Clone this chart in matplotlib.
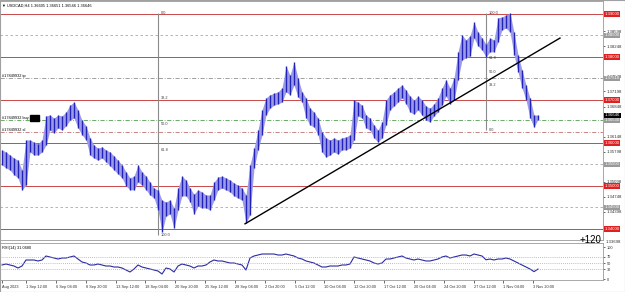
import numpy as np
import matplotlib.pyplot as plt
from matplotlib.patches import Rectangle
from matplotlib.transforms import blended_transform_factory

plt.rcParams['font.family'] = ['Liberation Sans', 'DejaVu Sans']

#==============================================================================#
# Data (USDCAD H4, one bar every second H4 bar)
#==============================================================================#
highs = [1.3584, 1.3579, 1.3572, 1.3565, 1.3560, 1.3537, 1.3607, 1.3607, 1.3602, 1.3598,
         1.3607, 1.3663, 1.3665, 1.3658, 1.3665, 1.3663, 1.3672, 1.3688, 1.3695, 1.3677,
         1.3653, 1.3640, 1.3612, 1.3595, 1.3588, 1.3591, 1.3584, 1.3579, 1.3570, 1.3560,
         1.3549, 1.3533, 1.3519, 1.3523, 1.3549, 1.3533, 1.3523, 1.3509, 1.3495, 1.3491,
         1.3467, 1.3463, 1.3467, 1.3449, 1.3495, 1.3523, 1.3514, 1.3495, 1.3481, 1.3491,
         1.3486, 1.3479, 1.3479, 1.3509, 1.3521, 1.3523, 1.3519, 1.3514, 1.3507, 1.3502,
         1.3495, 1.3479, 1.3549, 1.3588, 1.3630, 1.3677, 1.3705, 1.3712, 1.3716, 1.3719,
         1.3728, 1.3779, 1.3758, 1.3788, 1.3751, 1.3719, 1.3705, 1.3681, 1.3672, 1.3658,
         1.3626, 1.3612, 1.3607, 1.3612, 1.3607, 1.3612, 1.3614, 1.3619, 1.3700, 1.3695,
         1.3688, 1.3665, 1.3658, 1.3642, 1.3630, 1.3649, 1.3700, 1.3712, 1.3719, 1.3728,
         1.3735, 1.3723, 1.3709, 1.3700, 1.3709, 1.3700, 1.3686, 1.3681, 1.3691, 1.3705,
         1.3728, 1.3747, 1.3728, 1.3751, 1.3812, 1.3851, 1.3840, 1.3849, 1.3881, 1.3858,
         1.3844, 1.3830, 1.3844, 1.3840, 1.3891, 1.3893, 1.3898, 1.3902, 1.3858, 1.3805,
         1.3770, 1.3735, 1.3705, 1.3665, 1.36651]
lows = [1.3549, 1.3542, 1.3537, 1.3526, 1.3519, 1.3491, 1.3502, 1.3579, 1.3572, 1.3572,
        1.3579, 1.3595, 1.3630, 1.3623, 1.3635, 1.3630, 1.3640, 1.3653, 1.3658, 1.3635,
        1.3619, 1.3607, 1.3572, 1.3565, 1.3560, 1.3565, 1.3556, 1.3547, 1.3537, 1.3528,
        1.3519, 1.3500, 1.3491, 1.3491, 1.3509, 1.3502, 1.3491, 1.3479, 1.3472, 1.3444,
        1.3393, 1.3430, 1.3435, 1.3402, 1.3444, 1.3477, 1.3477, 1.3463, 1.3435, 1.3453,
        1.3449, 1.3449, 1.3444, 1.3467, 1.3491, 1.3495, 1.3491, 1.3486, 1.3477, 1.3472,
        1.3467, 1.3414, 1.3433, 1.3542, 1.3584, 1.3619, 1.3665, 1.3681, 1.3688, 1.3691,
        1.3695, 1.3719, 1.3712, 1.3735, 1.3707, 1.3695, 1.3658, 1.3642, 1.3637, 1.3619,
        1.3579, 1.3567, 1.3572, 1.3579, 1.3574, 1.3584, 1.3584, 1.3588, 1.3607, 1.3663,
        1.3658, 1.3635, 1.3630, 1.3612, 1.3602, 1.3612, 1.3642, 1.3677, 1.3686, 1.3695,
        1.3705, 1.3691, 1.3672, 1.3667, 1.3677, 1.3665, 1.3653, 1.3649, 1.3663, 1.3672,
        1.3688, 1.3709, 1.3691, 1.3700, 1.3747, 1.3793, 1.3798, 1.3802, 1.3844, 1.3826,
        1.3816, 1.3800, 1.3812, 1.3812, 1.3835, 1.3863, 1.3867, 1.3858, 1.3805, 1.3765,
        1.3728, 1.3700, 1.3658, 1.3637, 1.36546]
rsi = [43.8, 46.9, 43.8, 40.6, 34.4, 40.6, 59.4, 59.4, 59.4, 56.3,
       59.4, 71.9, 68.8, 65.6, 62.5, 65.6, 65.6, 68.8, 71.9, 62.5,
       53.1, 50.0, 43.8, 43.8, 46.9, 43.8, 40.6, 40.6, 37.5, 37.5,
       34.4, 28.1, 21.9, 31.3, 43.8, 37.5, 34.4, 31.3, 28.1, 25.0,
       15.6, 34.4, 31.3, 21.9, 40.6, 46.9, 43.8, 40.6, 34.4, 40.6,
       40.6, 43.8, 53.1, 59.4, 56.3, 56.3, 53.1, 50.0, 50.0, 46.9,
       43.8, 28.1, 65.6, 71.9, 75.0, 78.1, 78.1, 78.1, 78.1, 75.0,
       75.0, 78.1, 75.0, 71.9, 65.6, 62.5, 56.3, 53.1, 50.0, 43.8,
       37.5, 37.5, 40.6, 40.6, 40.6, 43.8, 43.8, 46.9, 68.8, 65.6,
       62.5, 59.4, 56.3, 50.0, 46.9, 50.0, 62.5, 62.5, 65.6, 68.8,
       71.9, 65.6, 62.5, 59.4, 62.5, 59.4, 56.3, 56.3, 59.4, 62.5,
       68.8, 71.9, 65.6, 68.8, 71.9, 75.0, 75.0, 71.9, 78.1, 75.0,
       71.9, 60.0, 62.5, 59.4, 62.5, 62.5, 65.6, 62.5, 56.3, 50.0,
       43.8, 37.5, 31.3, 23.0, 31.1]

time_labels = ['Aug 2023', '1 Sep 12:00', '6 Sep 04:00', '8 Sep 20:00', '13 Sep 12:00',
               '18 Sep 04:00', '20 Sep 20:00', '25 Sep 12:00', '28 Sep 04:00',
               '2 Oct 20:00', '5 Oct 12:00', '10 Oct 04:00', '12 Oct 20:00',
               '17 Oct 12:00', '20 Oct 04:00', '24 Oct 20:00', '27 Oct 12:00',
               '1 Nov 04:00', '3 Nov 20:00']
price_ticks = [1.38598, 1.38248, 1.37548, 1.37198, 1.36848, 1.36148, 1.35798,
               1.35098, 1.34748, 1.34398, 1.33698]
red_levels = [1.39, 1.38, 1.37, 1.36, 1.35, 1.34]
grey_levels = [1.385, 1.355, 1.345]
tp_level = 1.3751
buy_level = 1.3653
sl_level = 1.3626
last_price = 1.36646
order_id = '#17849932'
fib_levels = [0.0, 38.2, 50.0, 61.8, 100.0]
fibs = [(39.0, 1.3902, 1.3386),     # bar, 0 level price, 100 level price
        (121.0, 1.3630, 1.3902)]
trend = ([60.75, 139.5], [1.3412, 1.3844])
title = '\u25bc USDCAD,H4 1.36605 1.36651 1.36546 1.36646'
rsi_title = 'RSI(14) 31.0680'

#==============================================================================#
# Layout
#==============================================================================#
W, H = 625, 292
fig = plt.figure(figsize=(W / 100, H / 100), dpi=100)
ax = fig.add_axes([0.0, 1 - 240 / H, 603 / W, 239 / H])
axr = fig.add_axes([0.0, 1 - 280 / H, 603 / W, 37 / H])
fs = 2.8
grid_c = '#a8a8a8'

x = np.arange(len(highs))

#Price bars (light band between bars + the bars themselves)
ax.fill_between(x, lows, highs, color='#9c9ce6', lw=0, zorder=3)
ax.vlines(x, lows, highs, color='#2222b8', lw=1.0, zorder=4)
ax.set_xlim(-0.5, 150.25)
ax.set_ylim(1.33744, 1.39302)
ax.set_xticks([])

for lv in red_levels:
    ax.axhline(lv, color='#c84848', lw=0.7, zorder=1)
for lv in grey_levels:
    ax.axhline(lv, color=grid_c, lw=0.6, ls=(0, (3, 3)), zorder=1)
ax.axhline(tp_level, color='#909090', lw=0.6, ls=(0, (5, 2, 1, 2)), zorder=1)
ax.axhline(buy_level, color='#50a050', lw=0.6, ls=(0, (5, 2, 1, 2)), zorder=1)
ax.axhline(sl_level, color='#c07070', lw=0.6, ls=(0, (5, 2, 1, 2)), zorder=1)

tl = blended_transform_factory(ax.transAxes, ax.transData)
ax.text(0.003, tp_level, order_id + ' tp', fontsize=fs, va='bottom', transform=tl)
ax.text(0.003, buy_level, order_id + ' buy', fontsize=fs, va='bottom', transform=tl)
ax.text(0.003, sl_level, order_id + ' sl', fontsize=fs, va='bottom', transform=tl)
ax.add_patch(Rectangle((30 / 603, 119 / 239), 9 / 603, 6 / 239,
                       transform=ax.transAxes, color='black', zorder=5))

#Fibonacci
for bar, p0, p100 in fibs:
    ax.vlines(bar, min(p0, p100), max(p0, p100), color='#8a8a8a', lw=0.8, zorder=2)
    for lv in fib_levels:
        p = p0 + (p100 - p0) * lv / 100
        ax.text(bar + 0.6, p, '%.1f' % lv, fontsize=fs, va='center', color='#404040', zorder=6)

#Trend line
ax.plot(trend[0], trend[1], color='black', lw=1.0, zorder=5)

ax.text(0.004, 0.983, title, fontsize=fs, transform=ax.transAxes, va='center')

#Price scale
ax.yaxis.tick_right()
ax.set_yticks(price_ticks[:-1])
ax.set_yticklabels(['%.5f' % p for p in price_ticks[:-1]])
ax.tick_params(axis='y', labelsize=3.1, length=1.5, pad=1, width=0.5, colors='#303030')
box = dict(boxstyle='square,pad=0.12', ec='none')
for lv in red_levels:
    ax.text(1.003, lv, '%.5f' % lv, transform=tl, fontsize=3.1, color='white', va='center',
            bbox=dict(box, fc='#e02020'), clip_on=False, zorder=10)
for lv in grey_levels + [tp_level, buy_level]:
    ax.text(1.003, lv, '%.5f' % lv, transform=tl, fontsize=3.1, color='white', va='center',
            bbox=dict(box, fc='#9a9a9a'), clip_on=False, zorder=10)
ax.text(1.003, last_price, '%.5f' % last_price, transform=tl, fontsize=3.1, color='white',
        va='center', bbox=dict(box, fc='black'), clip_on=False, zorder=11)
ax.text(1.004, price_ticks[-1], '%.5f' % price_ticks[-1], transform=tl, fontsize=3.1,
        va='center', color='#303030', clip_on=False)

for s in ax.spines.values():
    s.set_color('#9a9a9a')
    s.set_linewidth(0.6)

#RSI
axr.plot(x, rsi, color='#2a2aa0', lw=0.8)
for lv in [70, 50, 30]:
    axr.axhline(lv, color=grid_c, lw=0.6, ls=(0, (1, 1.5)))
axr.set_xlim(ax.get_xlim())
axr.set_ylim(-3.1, 112.5)
axr.yaxis.tick_right()
axr.set_yticks([0, 30, 50, 70, 100])
axr.set_yticklabels(['0', '30', '50', '70', '100'])
axr.tick_params(axis='y', labelsize=fs, length=1.5, pad=1, width=0.5, colors='#303030')
pos = [0.0] + [6.0 + 7.46 * j for j in range(len(time_labels) - 1)]
axr.set_xticks(pos)
axr.set_xticklabels(time_labels, ha='left')
axr.tick_params(axis='x', labelsize=fs, length=2, pad=1.5, width=0.5, colors='#303030')
axr.text(0.003, 0.86, rsi_title, fontsize=fs, transform=axr.transAxes, va='center')
for s in axr.spines.values():
    s.set_color('#9a9a9a')
    s.set_linewidth(0.6)

fig.text(601 / W, 1 - 240 / H, '+120', ha='right', va='center', fontsize=7, zorder=20)
fig.patches.append(Rectangle((0, 0), 1, 1, transform=fig.transFigure, fill=False,
                             ec='#a0a0a0', lw=0.8))

fig.savefig('out.png', dpi=100)
